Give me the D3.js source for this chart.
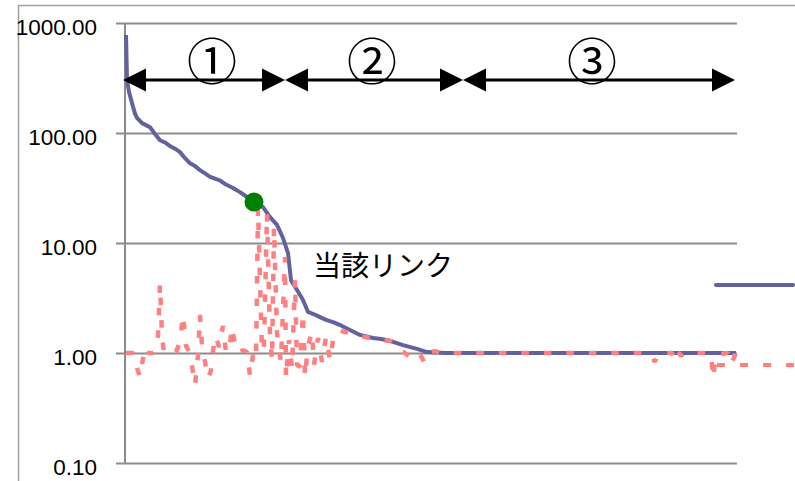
<!DOCTYPE html>
<html>
<head>
<meta charset="utf-8">
<style>
body { margin: 0; background: #fff; }
svg { display: block; }
.tick text { font-family: "Liberation Sans", Arial, sans-serif; font-size: 22.5px; fill: #000; }
.tick line { stroke: #8c8c8c; stroke-width: 2; }
</style>
</head>
<body>
<div id="chart"></div>
<script src="https://d3js.org/d3.v7.min.js"></script>
<script>
const width = 795, height = 481;

// y axis ticks
const yTicks = [0.1, 1, 10, 100, 1000];

// ranked total (solid line)
const totalRank = [1, 2, 4, 7, 10, 12, 17, 21, 25, 30, 35, 40, 45, 50, 55, 60, 65, 70, 75, 80, 85, 90, 95, 101, 108, 115, 122, 129, 134, 138, 145, 152, 158, 163, 166, 172, 178, 183, 189, 195, 201, 208, 216, 225, 235, 248, 256, 265, 278, 292, 302, 320, 611];
const totalValue = [778, 303, 236, 187, 150, 137, 123, 118, 113, 98, 86, 82, 76, 72, 67, 59, 53, 50, 46, 43, 40, 38.5, 37, 34, 31.6, 29, 26.2, 23.6, 22.6, 21.2, 17.2, 14.6, 11.1, 8.1, 4.6, 3.74, 3.03, 2.36, 2.25, 2.12, 2.0, 1.91, 1.78, 1.62, 1.46, 1.37, 1.34, 1.29, 1.18, 1.09, 1.02, 1.00, 1.00];

// link ratio (dashed line)
const linkRank = [1, 8, 12, 15, 17, 19, 21, 23, 28, 31, 33, 35, 37, 39, 47, 51, 55, 58, 61, 65, 70, 73, 75, 77, 80, 83, 86, 88, 91, 94, 98, 101, 104, 107, 110, 113, 118, 122, 125, 128, 131, 133, 137, 139, 142, 145, 147, 149, 152, 154, 156, 160, 161, 164, 167, 170, 172, 175, 178, 180, 183, 187, 189, 193, 197, 201, 205, 208, 213, 220, 227, 235, 245, 255, 265, 270, 275, 280, 285, 290, 295, 299, 303, 310, 315, 325, 330, 525, 530, 533, 547, 550, 553, 556, 559, 586, 588, 591, 603, 606, 611];
const linkValue = [1.00, 1.00, 0.73, 0.605, 0.78, 1.02, 0.90, 1.00, 1.00, 1.18, 1.43, 4.24, 1.43, 1.00, 1.00, 1.02, 1.26, 2.22, 1.16, 1.00, 0.51, 0.96, 2.22, 1.16, 0.83, 0.59, 0.69, 1.06, 1.43, 1.13, 1.76, 1.02, 1.02, 1.72, 1.18, 1.00, 1.06, 1.02, 0.62, 0.96, 0.86, 20.8, 1.02, 1.18, 18.7, 1.43, 0.86, 14.0, 1.52, 1.09, 0.83, 7.46, 0.59, 1.31, 0.73, 4.61, 0.78, 0.75, 2.31, 0.605, 1.18, 1.55, 0.78, 1.37, 0.83, 1.40, 0.86, 1.31, 1.62, 1.55, 1.52, 1.43, 1.37, 1.31, 1.29, 1.23, 1.06, 1.00, 0.92, 1.02, 0.98, 0.83, 1.02, 1.04, 1.00, 0.98, 1.00, 1.00, 0.83, 1.00, 1.00, 0.85, 1.02, 0.94, 1.00, 1.00, 0.59, 0.96, 1.00, 0.79, 1.00];

// highlighted link
const markRank = 129, markValue = 23.6;
const markLabel = "当該リンク";

// phases
const phaseLabels = ["①", "②", "③"];
const phaseStart = [-2, 160, 338];
const phaseEnd = [160, 338, 610];
const phaseLabelRank = [87, 247, 467];

const svg = d3.select('#chart').append('svg')
    .attr('width', width).attr('height', height);

const x = d3.scaleLinear().domain([0, 611]).range([125, 736]);
const y = d3.scaleLog().domain([0.1, 1000]).range([463, 23]);

// outer frame (partly cropped)
svg.append('path')
    .attr('d', 'M18.5,' + height + 'V5.5H' + width)
    .attr('fill', 'none').attr('stroke', '#a0a0a0').attr('stroke-width', 1.5);

// gridlines + labels
const yAxis = svg.append('g')
    .attr('transform', 'translate(116,0)')
    .call(d3.axisLeft(y).tickValues(yTicks).tickFormat(d3.format('.2f'))
        .tickSize(-621).tickPadding(19));
yAxis.select('.domain').remove();
yAxis.selectAll('.tick text').attr('dy', '0.5em').attr('x', -19);

svg.append('line')
    .attr('x1', 125).attr('x2', 125).attr('y1', y(1000)).attr('y2', y(0.1))
    .attr('stroke', '#8c8c8c').attr('stroke-width', 2);

const totalData = totalRank.map((r, i) => [r, totalValue[i]]);
const linkData = linkRank.map((r, i) => [r, linkValue[i]]);
const line = d3.line().x(d => x(d[0])).y(d => y(d[1]));

svg.append('path').datum(totalData)
    .attr('d', line).attr('fill', 'none')
    .attr('stroke', '#62629e').attr('stroke-width', 4)
    .attr('stroke-linejoin', 'round');

svg.append('path').datum(linkData)
    .attr('d', line).attr('fill', 'none')
    .attr('stroke', '#ff8080').attr('stroke-width', 4.5)
    .attr('stroke-dasharray', '7.5,15')
    .attr('stroke-linejoin', 'bevel');

svg.append('circle')
    .attr('cx', x(markRank)).attr('cy', y(markValue)).attr('r', 9.5)
    .attr('fill', '#008000');

svg.append('text')
    .attr('x', 313).attr('y', 276)
    .attr('font-family', '"Noto Sans CJK JP", sans-serif')
    .attr('font-size', 28).text(markLabel);

// phase arrows
const ay = 80, ah = 23, aw = 11.5;
const arrows = svg.append('g');
phaseLabels.forEach((lab, i) => {
    const x0 = x(phaseStart[i]), x1 = x(phaseEnd[i]);
    arrows.append('line')
        .attr('x1', x0 + 5).attr('x2', x1 - 5).attr('y1', ay).attr('y2', ay)
        .attr('stroke', '#000').attr('stroke-width', 3);
    arrows.append('path')
        .attr('d', `M${x0},${ay}L${x0 + ah},${ay - aw}L${x0 + ah},${ay + aw}Z`);
    arrows.append('path')
        .attr('d', `M${x1},${ay}L${x1 - ah},${ay - aw}L${x1 - ah},${ay + aw}Z`);
    arrows.append('text')
        .attr('x', x(phaseLabelRank[i])).attr('y', 58)
        .attr('text-anchor', 'middle').attr('dominant-baseline', 'central')
        .attr('font-family', '"Noto Sans CJK JP", sans-serif')
        .attr('font-size', 50).text(lab);
});

// legend lines (labels cropped off)
svg.append('line')
    .attr('x1', 716).attr('x2', 793).attr('y1', 285).attr('y2', 285)
    .attr('stroke', '#62629e').attr('stroke-width', 4).attr('stroke-linecap', 'round');
svg.append('line')
    .attr('x1', 717).attr('x2', 800).attr('y1', 365).attr('y2', 365)
    .attr('stroke', '#ff8080').attr('stroke-width', 4)
    .attr('stroke-dasharray', '8,15');
</script>
</body>
</html>
